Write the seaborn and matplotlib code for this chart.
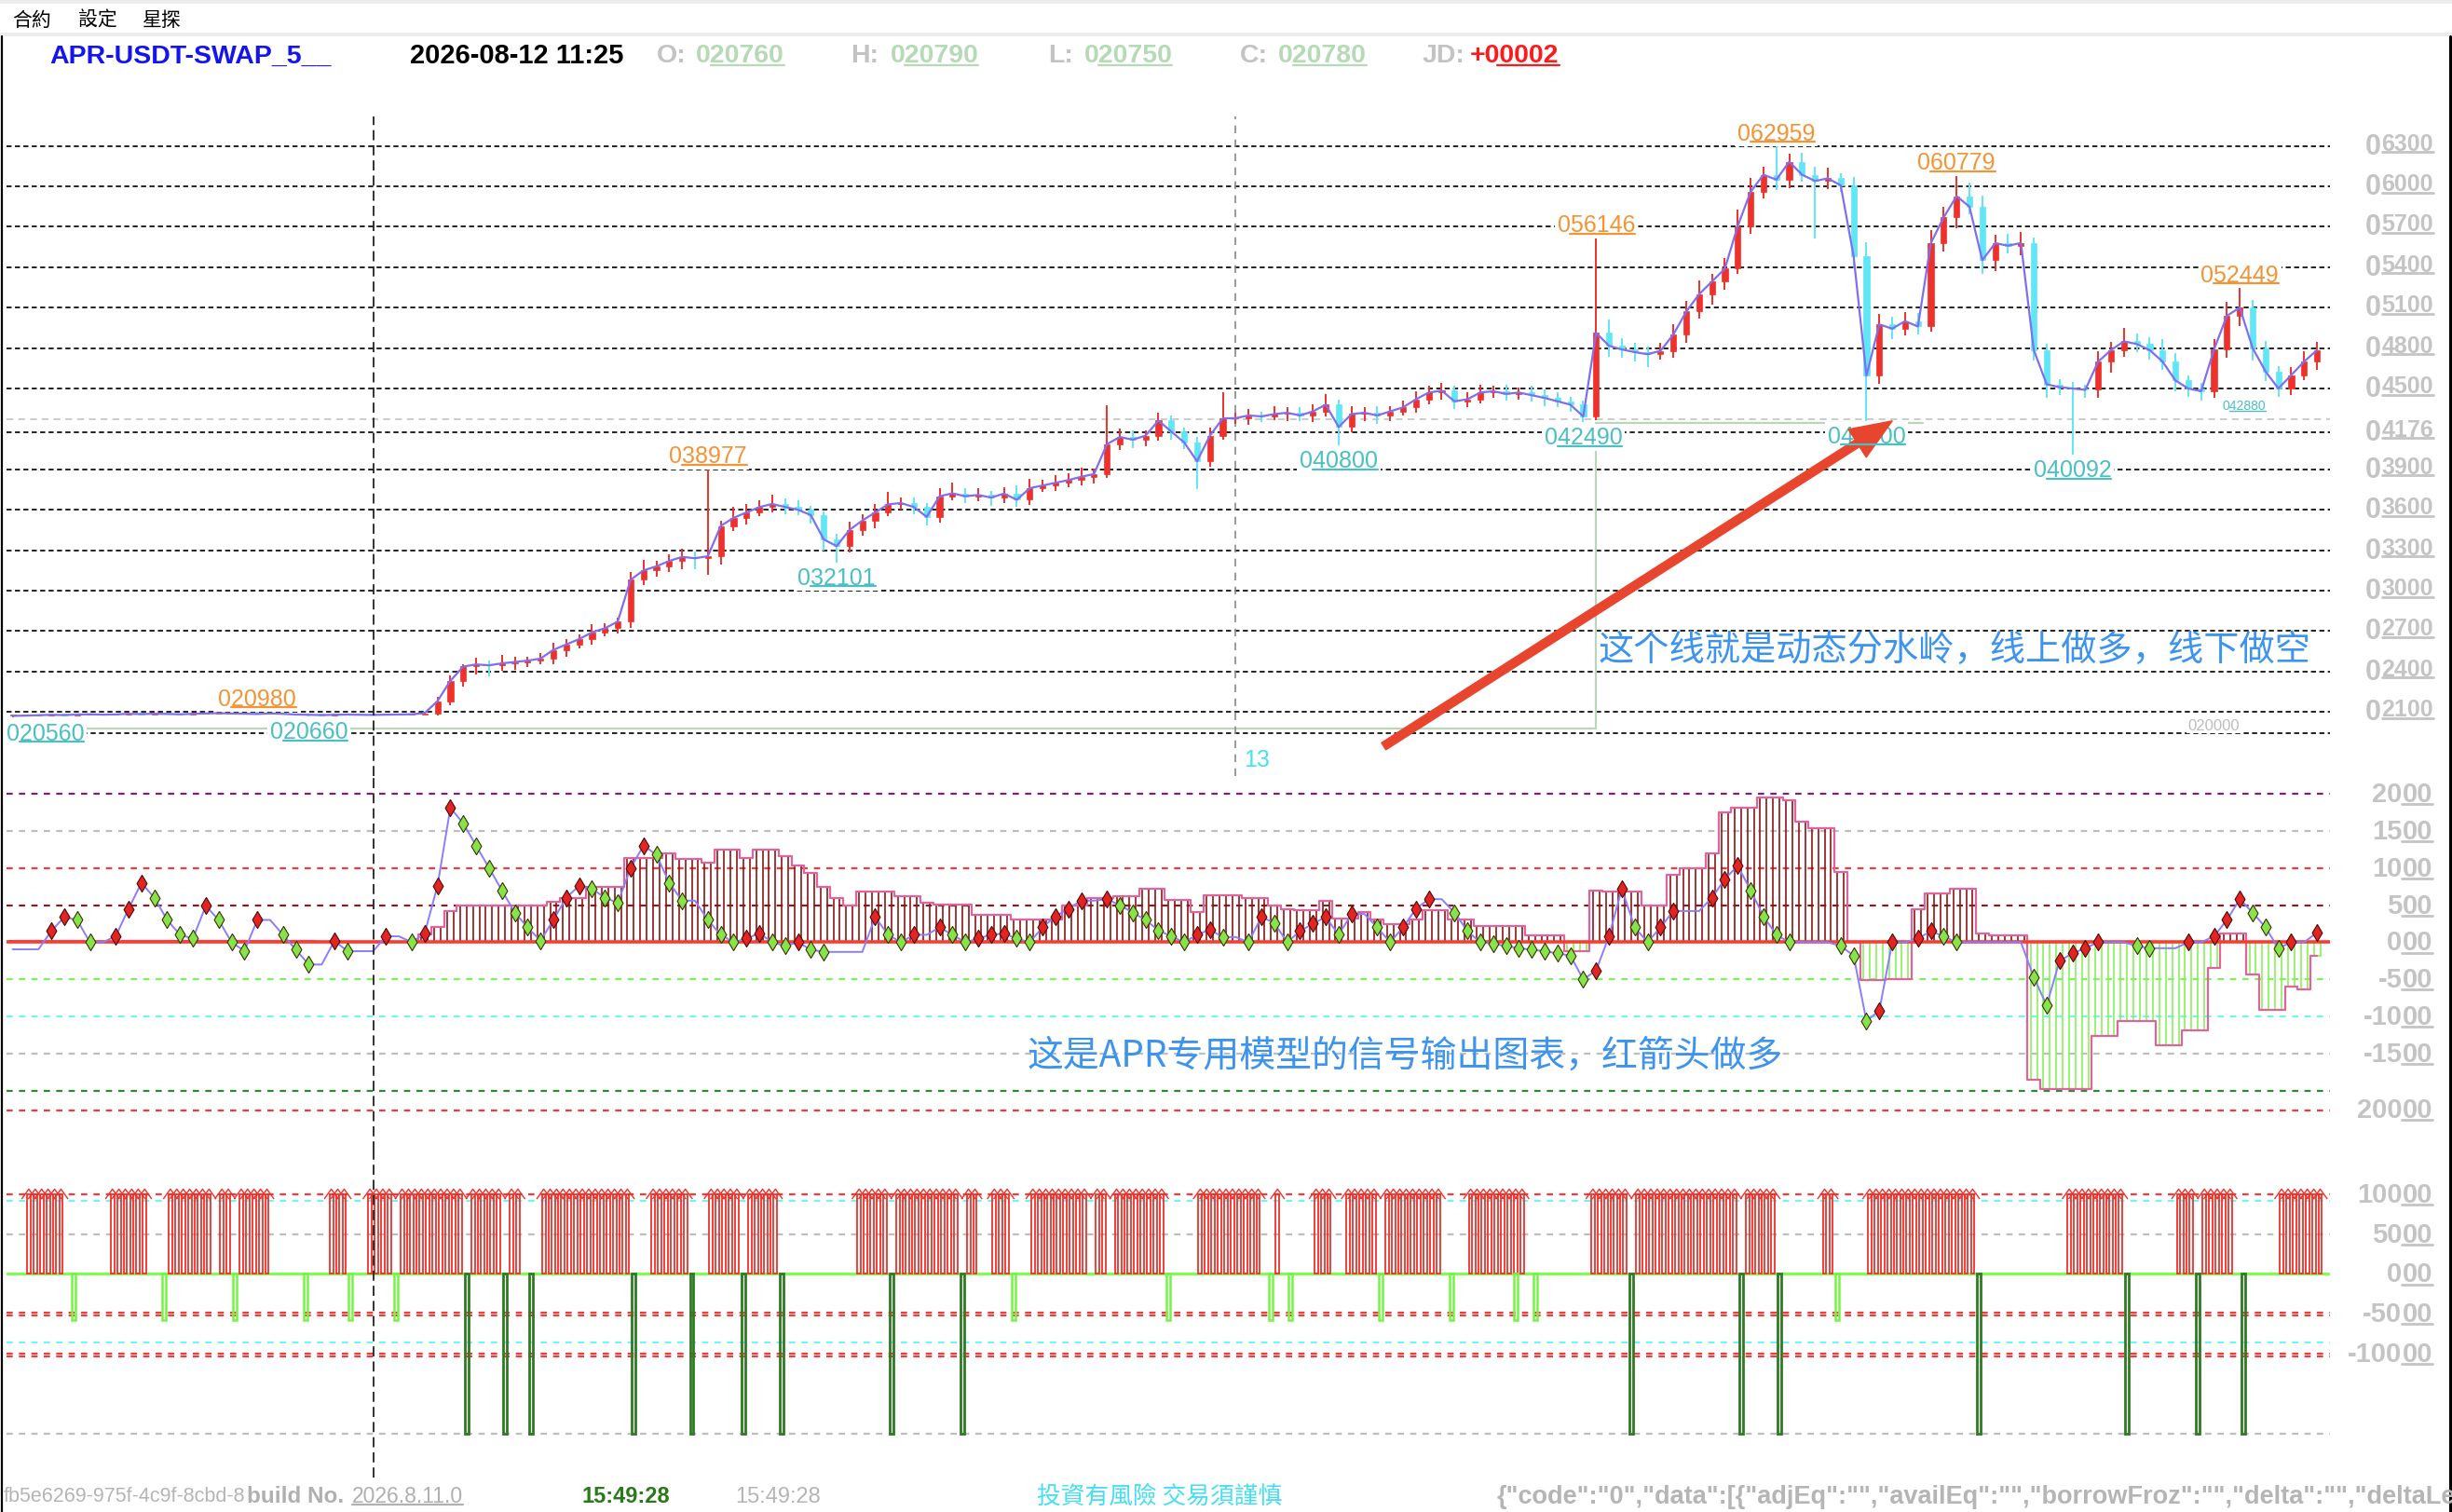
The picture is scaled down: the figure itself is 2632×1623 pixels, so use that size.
import numpy as np
import pandas as pd
import matplotlib
matplotlib.use("Agg")
import matplotlib.pyplot as plt
import seaborn as sns
from matplotlib.lines import Line2D
from matplotlib.patches import Rectangle
from matplotlib.path import Path
from matplotlib import transforms
from matplotlib import font_manager as fm

# ---------------------------------------------------------------- data
closes = [2070, 2072, 2075, 2078, 2076, 2080, 2082, 2079, 2081, 2085,
          2083, 2086, 2084, 2082, 2085, 2088, 2090, 2087, 2086, 2084,
          2088, 2085, 2080, 2078, 2076, 2078, 2080, 2078, 2077, 2079,
          2080, 2082, 2090, 2180, 2330, 2436, 2452, 2445, 2460, 2470,
          2480, 2495, 2560, 2600, 2640, 2690, 2720, 2770, 3080, 3150,
          3180, 3220, 3250, 3240, 3255, 3480, 3540, 3580, 3620, 3643,
          3620, 3600, 3560, 3380, 3330, 3450, 3520, 3580, 3640, 3650,
          3620, 3547, 3700, 3722, 3700, 3710, 3690, 3720, 3674, 3760,
          3780, 3800, 3820, 3845, 3865, 4087, 4140, 4120, 4150, 4262,
          4180, 4100, 3960, 4150, 4278, 4280, 4300, 4293, 4310, 4320,
          4300, 4330, 4380, 4214, 4310, 4320, 4300, 4330, 4360, 4420,
          4470, 4484, 4405, 4420, 4470, 4480, 4460, 4470, 4450, 4430,
          4405, 4380, 4293, 4913, 4817, 4790, 4770, 4754, 4780, 4900,
          5071, 5200, 5294, 5389, 5706, 5960, 6087, 6050, 6183, 6087,
          6040, 6060, 6008, 5484, 4595, 4976, 4944, 5000, 4960, 5579,
          5770, 5928, 5850, 5452, 5579, 5560, 5580, 4785, 4531, 4510,
          4500, 4490, 4700, 4785, 4850, 4830, 4785, 4700, 4560, 4500,
          4480, 4790, 5040, 5100, 4800, 4627, 4500, 4600, 4700, 4785]

up_wick = [5, 4, 5, 4, 5, 6, 4, 5, 4, 5,
           4, 5, 4, 5, 6, 4, 5, 4, 5, 12,
           4, 5, 4, 5, 4, 5, 4, 4, 5, 4,
           5, 4, 8, 30, 40, 20, 50, 30, 60, 40,
           30, 40, 50, 40, 35, 60, 40, 30, 60, 80,
           40, 50, 60, 40, 643, 40, 80, 60, 50, 70,
           40, 50, 30, 30, 40, 60, 50, 60, 90, 40,
           40, 30, 60, 80, 40, 50, 30, 50, 60, 70,
           40, 60, 50, 70, 40, 286, 60, 50, 40, 60,
           40, 30, 40, 60, 192, 40, 50, 30, 60, 40,
           40, 50, 80, 40, 60, 40, 50, 40, 50, 60,
           50, 60, 40, 50, 60, 40, 50, 40, 50, 40,
           40, 30, 30, 702, 100, 60, 50, 40, 60, 80,
           80, 100, 60, 80, 120, 100, 60, 209, 60, 70,
           60, 80, 40, 60, 100, 80, 60, 70, 60, 100,
           80, 150, 100, 80, 60, 70, 80, 40, 50, 40,
           40, 30, 80, 60, 100, 60, 50, 80, 60, 40,
           40, 80, 100, 145, 60, 50, 40, 60, 80, 60]

down_wick = [14, 5, 4, 5, 4, 5, 4, 5, 4, 5,
             4, 5, 4, 5, 4, 5, 4, 5, 4, 5,
             4, 5, 4, 12, 5, 4, 5, 4, 5, 4,
             5, 4, 5, 20, 30, 40, 60, 80, 40, 50,
             40, 30, 40, 50, 30, 40, 30, 40, 50, 40,
             50, 40, 60, 80, 121, 60, 40, 50, 30, 40,
             50, 40, 60, 80, 120, 50, 40, 60, 30, 40,
             50, 60, 40, 30, 50, 40, 60, 40, 50, 40,
             30, 40, 30, 40, 50, 30, 40, 60, 50, 40,
             60, 50, 206, 40, 30, 40, 50, 40, 30, 50,
             40, 50, 40, 134, 40, 50, 60, 40, 30, 40,
             40, 50, 60, 40, 30, 40, 50, 40, 50, 60,
             40, 50, 44, 30, 80, 60, 70, 94, 40, 50,
             60, 50, 80, 60, 40, 60, 50, 80, 60, 50,
             429, 60, 50, 80, 335, 60, 80, 50, 60, 40,
             60, 80, 60, 100, 80, 60, 70, 80, 100, 60,
             491, 60, 60, 80, 50, 60, 70, 60, 80, 60,
             70, 50, 60, 80, 90, 70, 60, 50, 40, 60]

hist_vals = [20, 20, 20, 20, 20, 20, 0, 0, 0, 20,
             20, 20, 20, 20, 20, 20, 20, 20, 20, 20,
             20, 20, 20, 20, 0, 0, 0, 0, 0, 0,
             0, 0, 110, 200, 420, 490, 490, 490, 490, 490,
             490, 490, 550, 590, 590, 740, 740, 740, 1140, 1140,
             1140, 1200, 1117, 1117, 1075, 1242, 1242, 1138, 1242, 1242,
             1159, 1033, 929, 741, 600, 490, 678, 678, 678, 615,
             615, 532, 510, 510, 510, 365, 365, 365, 302, 302,
             302, 302, 490, 490, 595, 595, 615, 615, 720, 720,
             574, 574, 406, 636, 636, 636, 595, 595, 490, 448,
             427, 427, 553, 323, 323, 406, 302, 239, 239, 302,
             427, 427, 302, 302, 220, 220, 220, 220, 93, 93,
             93, -120, -120, 699, 678, 678, 678, 490, 490, 908,
             992, 992, 1200, 1744, 1807, 1807, 1953, 1953, 1911, 1618,
             1535, 1535, 950, 0, -514, -514, -493, -493, 448, 657,
             657, 720, 720, 113, 93, 93, 93, -1850, -1976, -1976,
             -1976, -1976, -1266, -1266, -1057, -1057, -1057, -1391, -1391, -1182,
             -1182, -346, 113, 113, -430, -910, -910, -597, -639, -180]

osc_vals = [-95, -95, -95, 150, 340, 300, 0, 0, 80, 450,
            800, 600, 300, 100, 50, 490, 300, 0, -117, 300,
            300, 100, -100, -300, -300, 20, -120, -120, -120, 80,
            80, 0, 120, 760, 1810, 1600, 1300, 1000, 700, 400,
            200, 20, 300, 600, 760, 720, 600, 530, 1000, 1300,
            1180, 800, 560, 560, 300, 100, 0, 50, 120, 0,
            -50, 0, -100, -130, -130, -130, -130, 340, 100, 0,
            100, 100, 200, 100, 0, 50, 100, 120, 50, 0,
            200, 350, 450, 560, 560, 580, 500, 400, 300, 160,
            80, 0, 100, 170, 70, 70, 0, 340, 260, 0,
            150, 250, 340, 100, 380, 380, 200, 0, 200, 450,
            580, 580, 400, 150, 0, -20, -50, -80, -100, -120,
            -150, -180, -500, -380, 80, 720, 200, 0, 200, 420,
            420, 420, 600, 850, 1030, 700, 350, 100, 0, 0,
            0, 0, -50, -180, -1060, -920, 0, 0, 50, 150,
            80, 0, 0, 0, 0, 0, 0, -470, -850, -250,
            -150, -80, 0, 0, 0, -50, -80, -80, -80, 0,
            0, 80, 300, 580, 400, 200, -80, 0, 0, 130]

# signal panel (half-bar resolution, 360 slots)
red_runs = [(3, 8), (16, 21), (25, 31), (33, 34), (36, 40), (50, 52), (56, 59),
            (61, 70), (72, 76), (78, 79), (83, 96), (100, 105), (109, 113),
            (115, 119), (132, 136), (138, 141), (142, 147), (149, 150), (153, 155),
            (159, 167), (169, 170), (172, 179), (185, 194), (197, 197), (203, 205),
            (208, 212), (214, 222), (227, 235), (246, 251), (253, 268), (270, 274),
            (282, 283), (289, 305), (320, 328), (337, 339), (341, 345), (353, 359)]
lg_marks = [10, 24, 35, 46, 53, 60, 156, 180, 196, 199, 213, 224, 234, 237, 284]
dg_marks = [71, 77, 81, 97, 106, 114, 120, 137, 148, 252, 269, 275, 306, 329, 340, 347]

price_grid = [6300, 6000, 5700, 5400, 5100, 4800, 4500, 4176, 3900, 3600,
              3300, 3000, 2700, 2400, 2100, 1940]
price_axis_labels = [6300, 6000, 5700, 5400, 5100, 4800, 4500, 4176, 3900, 3600,
                     3300, 3000, 2700, 2400, 2100]
watershed_levels = [1975, 4246]
watershed_edges = [-0.5, 123, 148.4]
ref_level = 4275

swing_labels = [(0, 2056, "020560", "low", "left"),
                (19, 2098, "020980", "high", "center"),
                (23, 2066, "020660", "low", "center"),
                (54, 3898, "038977", "high", "center"),
                (64, 3210, "032101", "low", "center"),
                (103, 4080, "040800", "low", "center"),
                (122, 4249, "042490", "low", "center"),
                (123, 5615, "056146", "high", "center"),
                (137, 6296, "062959", "high", "center"),
                (151, 6078, "060779", "high", "center"),
                (144, 4260, "042600", "low", "center"),
                (160, 4009, "040092", "low", "center"),
                (173, 5245, "052449", "high", "center")]

osc_levels = [2000, 1500, 1000, 500, -500, -1000, -1500, -2000, -2270]
osc_level_colors = ['#7d1f7d', '#bdbdbd', '#f23b3b', '#8b1c1c', '#7ef25a',
                    '#6ef6f6', '#bdbdbd', '#2f8a2f', '#f23b3b']
osc_axis_labels = [(2000, "20"), (1500, "15"), (1000, "10"), (500, "5"), (0, "0"),
                   (-500, "-5"), (-1000, "-10"), (-1500, "-15"), (-2250, "200")]

sig_levels = [10000, 9200, 5000, -4900, -5200, -8600, -10000, -10300, -20000]
sig_level_colors = ['#f23b3b', '#6ef6f6', '#bdbdbd', '#f23b3b', '#f23b3b',
                    '#6ef6f6', '#f23b3b', '#f23b3b', '#bdbdbd']
sig_axis_labels = [(10000, "100"), (5000, "50"), (0, "0"), (-5000, "-50"), (-10000, "-100")]
sig_up, sig_lg, sig_dg = 10000, -5800, -20000

# ---------------------------------------------------------------- style
sns.set_theme(style="white")
plt.rcParams['font.family'] = ['Liberation Sans', 'DejaVu Sans']
CJK_SC = ['Noto Sans CJK SC', 'DejaVu Sans']
CJK_TC = ['Noto Sans CJK TC', 'DejaVu Sans']
try:
    fm.findfont(fm.FontProperties(family='Liberation Sans Narrow'), fallback_to_default=False)
    NARROW, SW_FS = ['Liberation Sans Narrow', 'Liberation Sans'], 21
except Exception:
    NARROW, SW_FS = ['Liberation Sans', 'DejaVu Sans'], 18

GRAY = '#c4c4c4'
ORANGE = '#f39437'
TEAL = '#4cbfc2'
RED = '#f0302a'
CYAN = '#5fe6f7'

fig = plt.figure(figsize=(26.32, 16.24), dpi=100, facecolor='white')
L, W = 0.00255, 0.94765
ax1 = fig.add_axes([L, 0.48615, W, 0.92247 - 0.48615])
ax2 = fig.add_axes([L, 0.23805, W, 0.48615 - 0.23805])
ax3 = fig.add_axes([L, 0.02297, W, 0.23805 - 0.02297])
for ax in (ax1, ax2, ax3):
    ax.set_xlim(-0.5, 180)
    ax.axis('off')
ax1.set_ylim(1620, 6520)
ax2.set_ylim(-2821, 2231)
ax3.set_ylim(-25480, 15290)

underlines = []


def ul(t, start=0.0, lw=1.5):
    underlines.append((t, start, lw))


# ---------------------------------------------------------------- price panel
idx = np.arange(len(closes))
c = np.array(closes, float)
o = np.r_[c[0], c[:-1]]
hi = np.maximum(o, c) + np.array(up_wick)
lo = np.minimum(o, c) - np.array(down_wick)
cols = np.where(c >= o, RED, CYAN)

for v in price_grid:
    ax1.axhline(v, color='#111111', lw=1.3, ls=(0, (3, 2)), zorder=1)
ax1.axhline(ref_level, color='#c8c8c8', lw=1.3, ls=(0, (4, 3)), zorder=1)

ws_x = [watershed_edges[0], watershed_edges[1], watershed_edges[1], watershed_edges[2]]
ws_y = [watershed_levels[0], watershed_levels[0], watershed_levels[1], watershed_levels[1]]
ax1.plot(ws_x, ws_y, color='#b9d6b9', lw=1.6, zorder=2)

ax1.vlines(idx, lo, hi, colors=cols, lw=1.4, zorder=3)
ax1.bar(idx, np.maximum(np.abs(c - o), 8), bottom=np.minimum(o, c), width=0.45,
        color=cols, edgecolor=cols, lw=0.5, zorder=3)
sns.lineplot(x=idx, y=c, ax=ax1, color='#7f6ff0', lw=1.6, zorder=4,
             estimator=None, sort=False, legend=False)

ax1.axvline(95, color='#8a8a8a', lw=1.2, ls=(0, (5, 4)), zorder=2)
for ax in (ax1, ax2, ax3):
    ax.axvline(28, color='#222222', lw=1.3, ls=(0, (6, 3)), zorder=6)

for i, v, txt, kind, ha in swing_labels:
    xi = i - 0.5 if ha == 'left' else i
    if kind == 'high':
        t = ax1.annotate(txt, xy=(xi, v), xytext=(0, 2), textcoords='offset points',
                         ha=ha, va='bottom', color=ORANGE, fontsize=SW_FS, family=NARROW,
                         bbox=dict(fc='white', ec='none', pad=2), zorder=7)
    else:
        t = ax1.annotate(txt, xy=(xi, v), xytext=(0, -3), textcoords='offset points',
                         ha=ha, va='top', color=TEAL, fontsize=SW_FS, family=NARROW,
                         bbox=dict(fc='white', ec='none', pad=2), zorder=7)
    ul(t, 1 / 6.0, 1.6)

t = ax1.annotate("042880", xy=(173.3, 4440), xytext=(0, -2), textcoords='offset points',
                 ha='center', va='top', color=TEAL, fontsize=10, family=NARROW, zorder=7)
ul(t, 1 / 6.0, 1.0)
ax1.annotate("020000", xy=(171, 2000), ha='center', va='center', color='#bdbdbd',
             fontsize=12, family=NARROW, zorder=7,
             bbox=dict(fc='white', ec='none', pad=1))
ax1.text(95.6, 1751, "13", color='#45e2f2', fontsize=18, ha='left', va='center', zorder=7)

ax1.annotate('', xy=(146.0, 4259), xytext=(106.5, 1844),
             arrowprops=dict(arrowstyle='simple,head_width=0.8,head_length=1.0,tail_width=0.2',
                             fc='#e8452f', ec='#e8452f', mutation_scale=32,
                             shrinkA=0, shrinkB=0), zorder=9)
ax1.text(123.2, 2564, "这个线就是动态分水岭，线上做多，线下做空", color='#3d94ee',
         fontsize=27.5, family=CJK_SC, ha='left', va='center', zorder=8)

# price axis labels on the right
trp = transforms.blended_transform_factory(fig.transFigure, ax1.transData)
for v in price_axis_labels:
    t0 = ax1.text(0.9646, v, "0", transform=trp, ha='left', va='center', fontsize=22,
                  color=GRAY, fontweight='bold', clip_on=False)
    t1 = ax1.annotate(f"{v:04d}", xy=(1.0, 0.6), xycoords=t0, xytext=(0.5, 0),
                      textcoords='offset points', ha='left', va='center', fontsize=18,
                      color=GRAY, fontweight='bold')
    ul(t1, 0.0, 2.0)

# ---------------------------------------------------------------- oscillator panel
h = np.array(hist_vals, float)
osc = np.array(osc_vals, float)
for v, col in zip(osc_levels, osc_level_colors):
    ax2.axhline(v, color=col, lw=1.6, ls=(0, (3, 3)), zorder=1)
bar_cols = np.where(h >= 0, '#8b1616', '#88f25a')
ax2.bar(idx, h, width=0.5, fill=False, edgecolor=bar_cols, lw=1.2, zorder=2)
ax2.step(idx, h, where='mid', color='#e0649c', lw=1.6, zorder=3)
ax2.axhline(0, color='#ff3b30', lw=2.6, zorder=4)
sns.lineplot(x=idx, y=osc, ax=ax2, color='#8a7dff', lw=1.4, zorder=5,
             estimator=None, sort=False, legend=False)
d = np.r_[0, np.diff(osc)]
rise = d > 0
fall = d < 0
sns.scatterplot(x=idx[rise], y=osc[rise], ax=ax2, marker='d', s=85, color='#e42420',
                edgecolor='#4a0a0a', linewidth=0.8, zorder=6, legend=False)
sns.scatterplot(x=idx[fall], y=osc[fall], ax=ax2, marker='d', s=85, color='#86e44a',
                edgecolor='#3a3000', linewidth=0.8, zorder=6, legend=False)
ax2.text(78.8, -1516, "这是APR专用模型的信号输出图表，红箭头做多", color='#3d94ee',
         fontsize=28, family=CJK_SC, ha='left', va='center', zorder=8)


def stack_label(ax, y, main, tail="00", fs=21):
    tr = transforms.blended_transform_factory(fig.transFigure, ax.transData)
    tt = ax.text(0.9920, y, tail, transform=tr, ha='right', va='center', fontsize=fs,
                 color=GRAY, fontweight='bold', clip_on=False)
    ax.annotate(main, xy=(0, 0.5), xycoords=tt, ha='right', va='center', fontsize=fs,
                color=GRAY, fontweight='bold')
    ul(tt, 0.0, 2.0)


for v, m in osc_axis_labels:
    stack_label(ax2, v, m)

# ---------------------------------------------------------------- signal panel
for v, col in zip(sig_levels, sig_level_colors):
    ax3.axhline(v, color=col, lw=1.6, ls=(0, (3, 3)), zorder=1)
ax3.axhline(0, color='#7cff4a', lw=2.2, zorder=1)
red_k = np.array([k for a, b in red_runs for k in range(a, b + 1)])
sx = red_k / 2.0 - 0.25
ax3.bar(sx, sig_up, width=0.28, fill=False, edgecolor=RED, lw=1.3, zorder=3)
chev = Path([(-1, -0.7), (0, 0.7), (1, -0.7)], [Path.MOVETO, Path.LINETO, Path.LINETO])
ax3.scatter(sx, np.full(len(sx), sig_up), marker=chev, s=120, facecolors='none',
            edgecolors=RED, linewidths=1.0, zorder=4)
lx = np.array(lg_marks) / 2.0 - 0.25
ax3.bar(lx, sig_lg, width=0.28, fill=False, edgecolor='#74f545', lw=1.8, zorder=3)
dx = np.array(dg_marks) / 2.0 - 0.25
ax3.bar(dx, sig_dg, width=0.28, fill=False, edgecolor='#2f7a25', lw=2.0, zorder=3)
for v, m in sig_axis_labels:
    stack_label(ax3, v, m)

# ---------------------------------------------------------------- frame, header, footer
fig.add_artist(Rectangle((0, 1 - 5 / 1624), 1, 5 / 1624, transform=fig.transFigure,
                         fc='#ececec', ec='none'))
fig.add_artist(Rectangle((0, 1 - 40 / 1624), 1, 4 / 1624, transform=fig.transFigure,
                         fc='#ececec', ec='none'))
fig.add_artist(Line2D([0.0006, 0.0006], [0, 1 - 40 / 1624], color='black', lw=1.6,
                      transform=fig.transFigure))
fig.add_artist(Line2D([0.9994, 0.9994], [0, 1 - 40 / 1624], color='black', lw=2.2,
                      transform=fig.transFigure))

for x, s in [(0.0051, "合約"), (0.0319, "設定"), (0.0580, "星探")]:
    fig.text(x, 0.9865, s, family=CJK_TC, fontsize=15, va='center', color='black')

hy = 0.9628
fig.text(0.0204, hy, "APR-USDT-SWAP_5__", color='#1414ee', fontsize=20.5,
         fontweight='bold', va='center')
fig.text(0.1671, hy, "2026-08-12 11:25", color='black', fontsize=21,
         fontweight='bold', va='center')
for lab, val, xl, xv in [("O:", "020760", 0.2679, 0.2839), ("H:", "020790", 0.3470, 0.3630),
                         ("L:", "020750", 0.4274, 0.4421), ("C:", "020780", 0.5058, 0.5212)]:
    fig.text(xl, hy, lab, color='#c3c3c3', fontsize=20.5, fontweight='bold', va='center')
    t = fig.text(xv, hy, val, color='#b5dab5', fontsize=20.5, fontweight='bold', va='center')
    ul(t, 1 / 6.0, 1.6)
fig.text(0.5799, hy, "JD:", color='#c3c3c3', fontsize=20.5, fontweight='bold', va='center')
t = fig.text(0.5996, hy, "+00002", color='#ff1a1a', fontsize=20.5, fontweight='bold', va='center')
ul(t, 0.3, 1.6)

fy = 0.0105
fig.text(0.0013, fy, "fb5e6269-975f-4c9f-8cbd-8", color='#b5b5b5', fontsize=15.5, va='center')
fig.text(0.1008, fy, "build No.", color='#b0b0b0', fontsize=17.5, fontweight='bold', va='center')
t = fig.text(0.1435, fy, "2026.8.11.0", color='#b0b0b0', fontsize=16.5, va='center')
ul(t, 0.0, 1.6)
fig.text(0.2374, fy, "15:49:28", color='#2a7a1a', fontsize=17, fontweight='bold', va='center')
fig.text(0.2998, fy, "15:49:28", color='#b5b5b5', fontsize=17, va='center')
fig.text(0.4229, fy, "投資有風險 交易須謹慎", color='#45dff0', fontsize=18.5, family=CJK_TC, va='center')
fig.text(0.6105, fy, '{"code":"0","data":[{"adjEq":"","availEq":"","borrowFroz":"","delta":"","deltaLe',
         color='#b5b5b5', fontsize=19.5, fontweight='bold', va='center')

# underlines computed from rendered text extents
fig.canvas.draw()
rend = fig.canvas.get_renderer()
inv = fig.transFigure.inverted()
for tx, st, lw in underlines:
    bb = tx.get_window_extent(rend)
    yb = bb.y0 + 0.1 * bb.height
    (fx0, fyy), (fx1, _) = inv.transform([(bb.x0 + st * bb.width, yb), (bb.x1, yb)])
    fig.add_artist(Line2D([fx0, fx1], [fyy, fyy], color=tx.get_color(), lw=lw,
                          transform=fig.transFigure))

fig.savefig("out.png", dpi=100, facecolor='white')
